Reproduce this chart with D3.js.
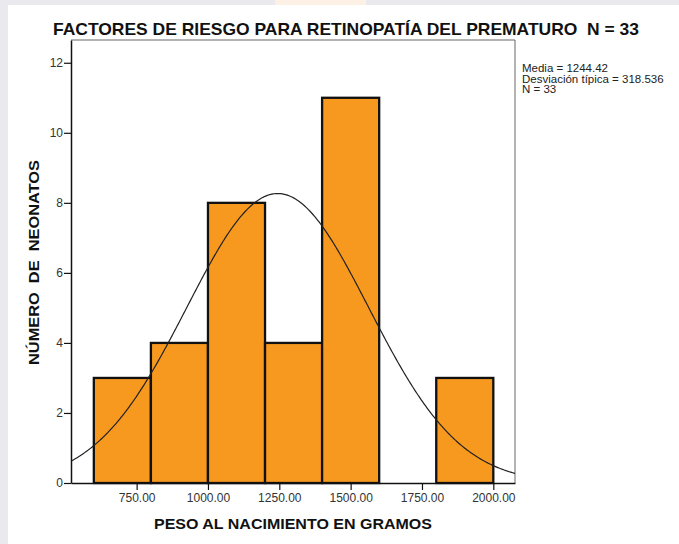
<!DOCTYPE html>
<html>
<head>
<meta charset="utf-8">
<script src="https://cdn.jsdelivr.net/npm/d3@7"></script>
<style>
  body { margin: 0; background: #ffffff; }
</style>
</head>
<body>
<script>
// histogram data (bins of 200 g)
const binStarts = [600, 800, 1000, 1200, 1400, 1600, 1800];
const binWidth = 200;
const counts = [3, 4, 8, 4, 11, 0, 3];
const xTicks = [750, 1000, 1250, 1500, 1750, 2000];
const yTicks = [0, 2, 4, 6, 8, 10, 12];

// summary stats shown on the chart
const media = 1244.42;
const desviacion = 318.536;
const nTotal = 33;

const canvWidth = 679, canvHeight = 544;

const svg = d3.select("body").append("svg")
    .attr("width", canvWidth)
    .attr("height", canvHeight)
    .style("font-family", "'Liberation Sans', Arial, sans-serif");

// slide background
svg.append("rect")
    .attr("width", canvWidth).attr("height", canvHeight)
    .attr("fill", "#e9e9ee");
svg.append("rect")
    .attr("x", 8).attr("y", 5)
    .attr("width", canvWidth - 8).attr("height", canvHeight - 5)
    .attr("fill", "#ffffff");
svg.append("rect")
    .attr("x", 275).attr("y", 0)
    .attr("width", 91).attr("height", 5)
    .attr("fill", "#fdf1e6");

// plot frame
const frame = {left: 71, right: 515, top: 40, bottom: 483};

const xScale = d3.scaleLinear()
    .domain([520, 2076])
    .range([frame.left, frame.right]);

const yScale = d3.scaleLinear()
    .domain([0, 12.65])
    .range([frame.bottom, frame.top]);

// frame top / right (thin gray)
svg.append("path")
    .attr("d", `M${frame.left},${frame.top}H${frame.right}V${frame.bottom}`)
    .attr("fill", "none")
    .attr("stroke", "#666")
    .attr("stroke-width", 1);

svg.append("clipPath").attr("id", "plotclip")
    .append("rect")
    .attr("x", frame.left).attr("y", frame.top)
    .attr("width", frame.right - frame.left)
    .attr("height", frame.bottom - frame.top);

// bars
svg.append("g").selectAll("rect")
    .data(binStarts.map((s, i) => ({start: s, count: counts[i]})).filter(d => d.count > 0))
    .enter().append("rect")
    .attr("x", d => xScale(d.start))
    .attr("y", d => yScale(d.count))
    .attr("width", d => xScale(d.start + binWidth) - xScale(d.start))
    .attr("height", d => yScale(0) - yScale(d.count))
    .attr("fill", "#f7991f")
    .attr("stroke", "#111")
    .attr("stroke-width", 2.3);

// normal curve from mean and std deviation, scaled to counts
const xs = d3.range(520, 2077, 4);
const normal = x => nTotal * binWidth / (desviacion * Math.sqrt(2 * Math.PI)) *
    Math.exp(-0.5 * Math.pow((x - media) / desviacion, 2));

svg.append("path")
    .datum(xs)
    .attr("clip-path", "url(#plotclip)")
    .attr("d", d3.line().x(d => xScale(d)).y(d => yScale(normal(d))))
    .attr("fill", "none")
    .attr("stroke", "#222")
    .attr("stroke-width", 1.2);

// x axis
const xAxis = d3.axisBottom(xScale)
    .tickValues(xTicks)
    .tickFormat(d3.format(".2f"))
    .tickSize(7)
    .tickSizeOuter(0);
const gx = svg.append("g")
    .attr("transform", "translate(0," + frame.bottom + ")")
    .call(xAxis);
gx.select(".domain").attr("stroke", "#111").attr("stroke-width", 1.5);
gx.selectAll(".tick line").attr("stroke", "#111").attr("stroke-width", 1.2);
gx.selectAll(".tick text")
    .attr("y", 10)
    .attr("font-size", "12px")
    .attr("font-family", "'Liberation Sans', Arial, sans-serif")
    .attr("fill", "#333");

// y axis
const yAxis = d3.axisLeft(yScale)
    .tickValues(yTicks)
    .tickSize(7)
    .tickSizeOuter(0);
const gy = svg.append("g")
    .attr("transform", "translate(" + frame.left + ",0)")
    .call(yAxis);
gy.select(".domain").attr("stroke", "#111").attr("stroke-width", 1.5);
gy.selectAll(".tick line").attr("stroke", "#111").attr("stroke-width", 1.2);
gy.selectAll(".tick text")
    .attr("x", -8)
    .attr("font-size", "12px")
    .attr("font-family", "'Liberation Sans', Arial, sans-serif")
    .attr("fill", "#333");

// title
svg.append("text")
    .attr("x", 53)
    .attr("y", 35)
    .attr("font-size", "17px")
    .attr("font-weight", "bold")
    .attr("fill", "#111")
    .attr("textLength", 586)
    .attr("lengthAdjust", "spacingAndGlyphs")
    .style("white-space", "pre")
    .text("FACTORES DE RIESGO PARA RETINOPATÍA DEL PREMATURO  N = 33");

// x axis label
svg.append("text")
    .attr("x", 154)
    .attr("y", 529)
    .attr("font-size", "15.5px")
    .attr("font-weight", "bold")
    .attr("fill", "#111")
    .attr("textLength", 278)
    .attr("lengthAdjust", "spacingAndGlyphs")
    .text("PESO AL NACIMIENTO EN GRAMOS");

// y axis label
svg.append("text")
    .attr("transform", "translate(39,365) rotate(-90)")
    .attr("font-size", "15.5px")
    .attr("font-weight", "bold")
    .attr("fill", "#111")
    .attr("textLength", 205)
    .attr("lengthAdjust", "spacingAndGlyphs")
    .style("white-space", "pre")
    .text("NÚMERO  DE  NEONATOS");

// stats box text
const statLines = ["Media = " + media, "Desviación típica = " + desviacion, "N = " + nTotal];
svg.append("g").selectAll("text")
    .data(statLines)
    .enter().append("text")
    .attr("x", 522)
    .attr("y", (d, i) => 72 + i * 10.5)
    .attr("font-size", "11.5px")
    .attr("fill", "#222")
    .text(d => d);
</script>
</body>
</html>
